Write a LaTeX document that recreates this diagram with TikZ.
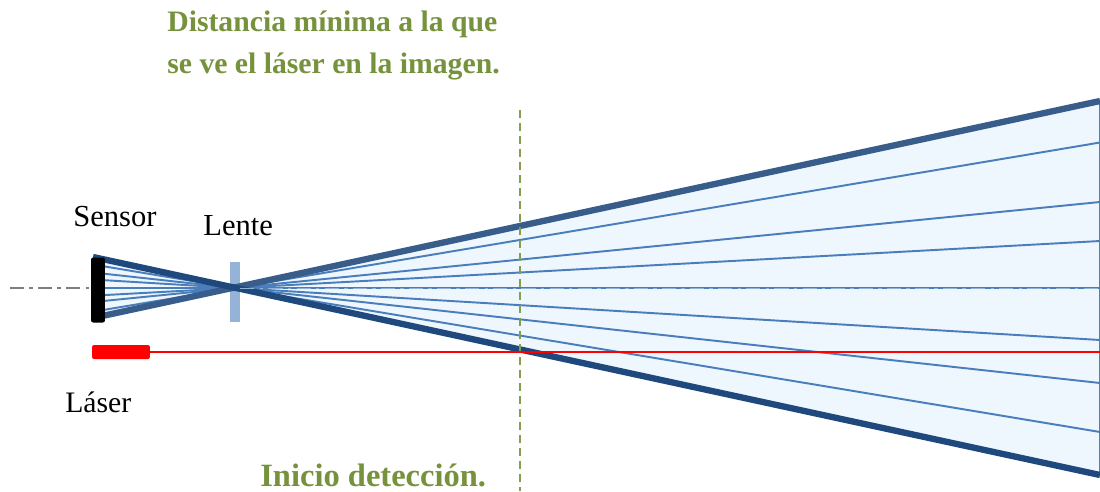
\documentclass[tikz,border=0pt]{standalone}
\usepackage{fontspec}
\setmainfont{Liberation Serif}
\usetikzlibrary{positioning,calc}
\definecolor{conefill}{HTML}{EEF6FE}
\definecolor{raythin}{HTML}{4A7EBB}
\definecolor{raytop}{HTML}{385D8A}
\definecolor{raybot}{HTML}{1F497D}
\definecolor{lensblue}{HTML}{95B3D7}
\definecolor{labelgreen}{HTML}{76923C}
\definecolor{axisgray}{HTML}{7F7F7F}
\tikzset{
  thinray/.style={draw=raythin,line width=1.1pt},
  edgeray/.style={line width=3.6pt},
  partlabel/.style={font=\fontsize{17.4}{20}\selectfont,inner sep=0pt},
  notelabel/.style={font=\fontsize{16.9}{23.4}\selectfont\bfseries,text=labelgreen,
                    inner sep=0pt,align=left},
  sensorbox/.style={fill=black,rounded corners=1.2pt,minimum width=0.28cm,
                    minimum height=1.3cm,inner sep=0pt},
  lensbox/.style={fill=lensblue,minimum width=0.2cm,minimum height=1.2cm,inner sep=0pt},
  laserbox/.style={fill=red,rounded corners=1.2pt,minimum width=1.16cm,
                   minimum height=0.28cm,inner sep=0pt}
}
\begin{document}
\begin{tikzpicture}[x=0.02cm,y=-0.02cm]
  \useasboundingbox (0,0) rectangle (1100,491);

  % end points of the two outer rays
  \coordinate (tl) at (93,257);
  \coordinate (bl) at (93,318);
  \coordinate (tr) at (1100,101);
  \coordinate (br) at (1100,475);
  \coordinate (lc) at (234,288);

  % light cone on both sides of the lens
  \fill[conefill] (tl) -- (lc) -- (bl) -- cycle;
  \fill[conefill] (tr) -- (lc) -- (br) -- cycle;
  \draw[raytop!80,line width=0.7pt] (tr) -- (br);

  \node[lensbox] (lens) at (235,292) {};

  % inner rays, sensor end and far end
  \foreach \idx/\ys/\ye in {1/311.7/142.5,2/302/202,3/295.7/241,4/288/288,5/279.5/340,6/272.5/383,7/264.5/432} {
    \coordinate (s\idx) at (93,\ys);
    \coordinate (e\idx) at (1100,\ye);
    \draw[thinray] (s\idx) -- (e\idx);
  }
  \draw[edgeray,draw=raytop] (bl) -- (tr);
  \draw[edgeray,draw=raybot] (tl) -- (br);

  \node[sensorbox] (sensor) at (98,290) {};
  \node[laserbox] (laser) at (121,352) {};

  % optical axis
  \coordinate (axisstart) at (10,288);
  \coordinate (axisend) at (1100,288);
  \draw[axisgray,line width=0.7pt,dash pattern=on 8pt off 3pt on 2pt off 3pt] (axisstart) -- (sensor.west |- axisstart);
  \draw[raythin!60,line width=0.5pt,dash pattern=on 8pt off 3pt on 2pt off 3pt] (lens.east |- axisend) -- (axisend);

  % start of detection
  \coordinate (dtop) at (520,110);
  \coordinate (dbot) at (520,491);
  \draw[labelgreen!90,line width=1.2pt,dash pattern=on 4.5pt off 2.9pt] (dtop) -- (dbot);

  \coordinate (laserend) at (1100,352);
  \draw[red,line width=1.1pt] (laser.east) -- (laserend);

  \node[partlabel,anchor=base west] (sensorlabel) at (73,226) {Sensor};
  \node[partlabel,anchor=base west] (lenslabel) at (203,235) {Lente};
  \node[partlabel,font=\fontsize{16.9}{20}\selectfont,anchor=base west] (laserlabel) at (65,412) {Láser};
  \node[notelabel,anchor=north west] (distnote) at (167,11)
    {Distancia mínima a la que\\se ve el láser en la imagen.};
  \node[notelabel,font=\fontsize{18.5}{22}\selectfont\bfseries,anchor=base west] (startnote) at (260,486) {Inicio detección.};
\end{tikzpicture}
\end{document}
